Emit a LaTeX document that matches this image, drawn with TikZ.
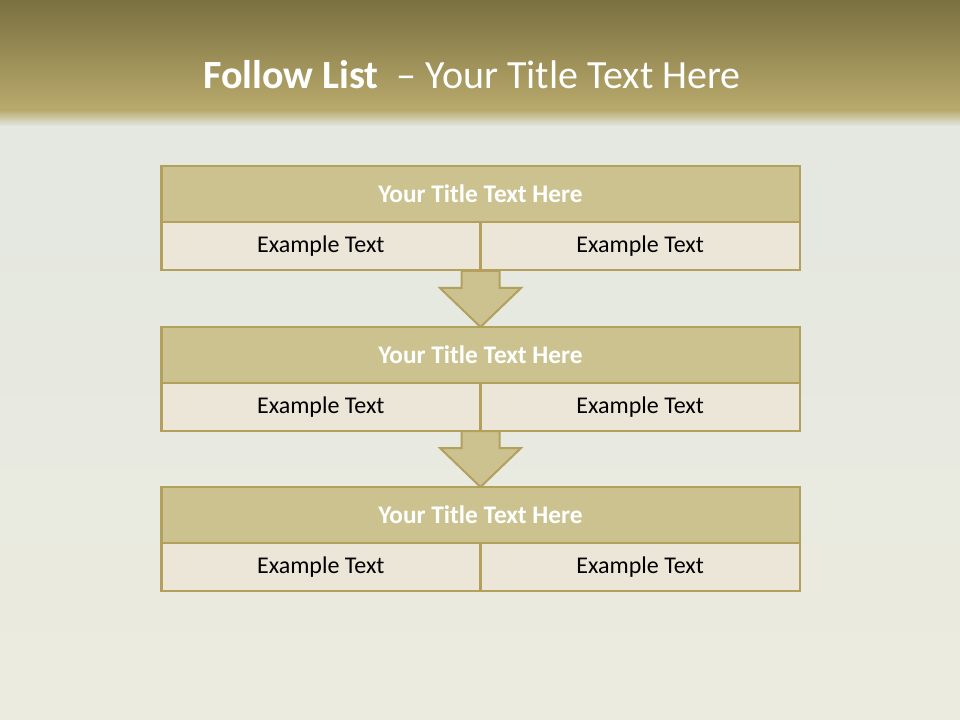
\documentclass[tikz,border=0pt]{standalone}
\usepackage{fontspec}
\setmainfont{Carlito}
\usepackage{xcolor}
\usepackage{tikz}
\usetikzlibrary{positioning}

\definecolor{headdark}{HTML}{7A7040}
\definecolor{headlight}{HTML}{B9AA6C}
\definecolor{paletop}{HTML}{E2E7E1}
\definecolor{palebottom}{HTML}{ECEBDF}
\definecolor{tanline}{HTML}{B3A05C}
\definecolor{tanfill}{HTML}{CCC290}
\definecolor{cellfill}{HTML}{ECE6D8}

\begin{document}
\begin{tikzpicture}[
        x=0.75pt, y=-0.75pt,
        node distance=0pt,
        titlebar/.style={rectangle, draw=tanline, line width=2pt, fill=tanfill, outer sep=0pt, minimum width=479pt, minimum height=42pt, text=white, font=\fontsize{19}{23}\selectfont\bfseries},
        cell/.style={rectangle, draw=tanline, line width=2pt, fill=cellfill, outer sep=0pt, minimum width=239.5pt, minimum height=36pt, font=\fontsize{18}{22}\selectfont},
        downarrow/.style={draw=tanline, line width=1.5pt, fill=tanfill, line join=miter}
    ]
        % background and header band
        \useasboundingbox (0,0) rectangle (960,720);
        \shade[top color=paletop, bottom color=palebottom] (0,0) rectangle (960,720);
        \shade[top color=headdark, bottom color=headlight] (0,0) rectangle (960,110);
        \shade[top color=headlight, bottom color=paletop] (0,110) rectangle (960,126);
        \node[text=white, font=\fontsize{30}{36}\selectfont] (heading) at (472,75) {\textbf{Follow List}\ \ – Your Title Text Here};

        % three steps
        \node[titlebar] (t1) at (480.5,194) {Your Title Text Here};
        \node[cell, below right=of t1.south west] (l1) {Example Text};
        \node[cell, below left=of t1.south east] (r1) {Example Text};

        \node[titlebar] (t2) at (480.5,355) {Your Title Text Here};
        \node[cell, below right=of t2.south west] (l2) {Example Text};
        \node[cell, below left=of t2.south east] (r2) {Example Text};

        \node[titlebar] (t3) at (480.5,515) {Your Title Text Here};
        \node[cell, below right=of t3.south west] (l3) {Example Text};
        \node[cell, below left=of t3.south east] (r3) {Example Text};

        % arrows between steps
        \foreach \to in {t2,t3}
            \draw[downarrow] (\to.north) -- ++(-40.5,-39) -- ++(21.5,0) -- ++(0,-17) -- ++(38,0)
                -- ++(0,17) -- ++(21.5,0) -- cycle;
    \end{tikzpicture}
\end{document}
